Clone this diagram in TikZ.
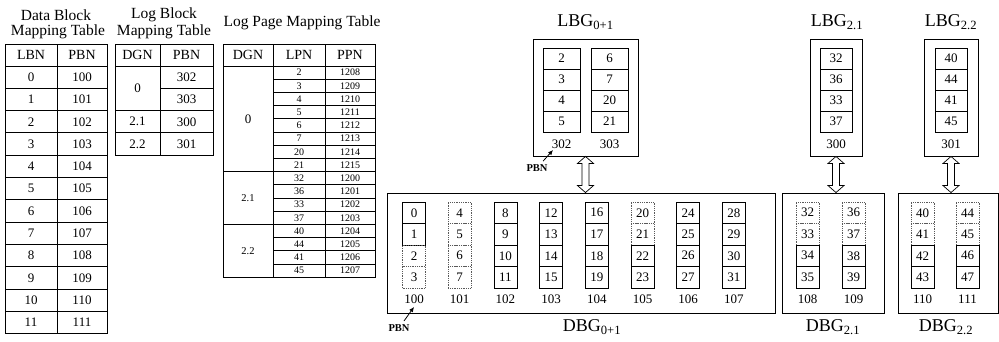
\documentclass[tikz,border=0pt]{standalone}
\usepackage{fontspec}
\setmainfont{Liberation Serif}
\usetikzlibrary{arrows.meta,positioning,calc}

\tikzset{
  tcell/.style={draw, line width=0.8pt, inner sep=0pt, font=\fontsize{13}{13}\selectfont},
  thead/.style={tcell, font=\fontsize{14}{14}\selectfont},
  pcell/.style={draw, line width=0.7pt, inner sep=0pt, font=\fontsize{10}{10}\selectfont},
  pagecell/.style={draw, line width=0.8pt, inner sep=0pt, minimum height=21.5, font=\fontsize{13}{13}\selectfont},
  invalid/.style={densely dotted, draw=black!65},
  chkpage/.code={%
    \ifnum#1>1 \ifnum#1<8 \tikzset{invalid}\fi\fi
    \ifnum#1=20 \tikzset{invalid}\fi
    \ifnum#1=21 \tikzset{invalid}\fi
    \ifnum#1>31 \pgfmathtruncatemacro\pgrest{mod(#1,4)}\ifnum\pgrest<2 \tikzset{invalid}\fi\fi},
  grpbox/.style={draw, line width=0.9pt, inner sep=0pt},
  tabtitle/.style={font=\fontsize{15.5}{15.5}\selectfont},
  grptitle/.style={font=\fontsize{18}{18}\selectfont},
  lbl/.style={font=\fontsize{13}{13}\selectfont},
  pbnlbl/.style={font=\fontsize{10.5}{10.5}\selectfont\bfseries},
  pbnarrow/.style={line width=0.8pt, -{Latex[length=5pt,width=4.5pt]}},
  xchg/.style={draw, fill=white, line width=0.7pt, line join=miter}
}
% hollow two-way arrow from the bottom of #1 down to the top of #2
\newcommand{\swaparrow}[2]{%
  \path [xchg] (#1.south) -- ++(8,7) -- ++(-4.5,0)
    -- ($(#1.south |- #2.north)+(3.5,-7)$) -- ++(4.5,0) -- (#1.south |- #2.north)
    -- ++(-8,-7) -- ++(4.5,0) -- ($(#1.south)+(-3.5,7)$) -- ++(-4.5,0) -- cycle;}

\begin{document}
\begin{tikzpicture}[x=1pt, y=-1pt]
        \useasboundingbox (0,0) rectangle (999,342);
        % Place titles
        \node [tabtitle] (t1a) at (56,15) {Data Block};
        \node [tabtitle] (t1b) at (58,32) {Mapping Table};
        \node [tabtitle] (t2a) at (164,15) {Log Block};
        \node [tabtitle] (t2b) at (164,32) {Mapping Table};
        \node [tabtitle] (t3) at (302,23) {Log Page Mapping Table};
        % Data block mapping table
        \node [thead, minimum width=52, minimum height=22] (dbh1) at (31,55) {LBN};
        \node [thead, minimum width=50, minimum height=22] (dbh2) at (82,55) {PBN};
        \foreach \k in {0,...,11} {
            \pgfmathtruncatemacro\pb{100+\k}
            \node [tcell, minimum width=52, minimum height=22.3] (lbn\k) at (31,{77.15+22.3*\k}) {\k};
            \node [tcell, minimum width=50, minimum height=22.3] (pbn\k) at (82,{77.15+22.3*\k}) {\pb};
        }
        % Log block mapping table
        \node [thead, minimum width=45, minimum height=22] (lbh1) at (137.5,55) {DGN};
        \node [thead, minimum width=53, minimum height=22] (lbh2) at (186.5,55) {PBN};
        \node [tcell, minimum width=45, minimum height=44.6] (dgn0) at (137.5,88.3) {0};
        \node [tcell, minimum width=45, minimum height=22.3] (dgn21) at (137.5,121.75) {2.1};
        \node [tcell, minimum width=45, minimum height=22.3] (dgn22) at (137.5,144.05) {2.2};
        \foreach \pb [count=\k from 0] in {302,303,300,301}
            \node [tcell, minimum width=53, minimum height=22.3] (lpb\k) at (186.5,{77.15+22.3*\k}) {\pb};
        % Log page mapping table
        \node [thead, minimum width=50, minimum height=22] (lph1) at (248,55) {DGN};
        \node [thead, minimum width=52, minimum height=22] (lph2) at (299,55) {LPN};
        \node [thead, minimum width=50, minimum height=22] (lph3) at (350,55) {PPN};
        \node [tcell, minimum width=50, minimum height=105.6] (pg0) at (248,118.8) {0};
        \node [tcell, minimum width=50, minimum height=52.8, font=\fontsize{10.5}{10.5}\selectfont] (pg21) at (248,198) {2.1};
        \node [tcell, minimum width=50, minimum height=52.8, font=\fontsize{10.5}{10.5}\selectfont] (pg22) at (248,250.8) {2.2};
        \foreach \lp/\pp [count=\k from 0] in {2/1208,3/1209,4/1210,5/1211,6/1212,7/1213,20/1214,21/1215,
                                                32/1200,36/1201,33/1202,37/1203,40/1204,44/1205,41/1206,45/1207} {
            \node [pcell, minimum width=52, minimum height=13.2] (lpn\k) at (299,{72.6+13.2*\k}) {\lp};
            \node [pcell, minimum width=50, minimum height=13.2] (ppn\k) at (350,{72.6+13.2*\k}) {\pp};
        }
        % Log block groups
        \node [grpbox, minimum width=105, minimum height=117] (lbg01) at (585.5,97.5) {};
        \node [grptitle] (lbg01t) at (585.5,22) {LBG\textsubscript{0+1}};
        \foreach \v [count=\k from 0] in {2,3,4,5}
            \node [pagecell, minimum width=37, minimum height=21] (la\k) at (561.5,{58.5+21*\k}) {\v};
        \foreach \v [count=\k from 0] in {6,7,20,21}
            \node [pagecell, minimum width=37, minimum height=21] (lb\k) at (609.5,{58.5+21*\k}) {\v};
        \node [lbl] (n302) at (561.5,144) {302};
        \node [lbl] (n303) at (609.5,144) {303};
        \node [grpbox, minimum width=52, minimum height=117] (lbg21) at (836,97.5) {};
        \node [grptitle] (lbg21t) at (837,22) {LBG\textsubscript{2.1}};
        \foreach \v [count=\k from 0] in {32,36,33,37}
            \node [pagecell, minimum width=32, minimum height=21] (lc\k) at (836,{58.5+21*\k}) {\v};
        \node [lbl] (n300) at (836,144) {300};
        \node [grpbox, minimum width=54, minimum height=117] (lbg22) at (951,97.5) {};
        \node [grptitle] (lbg22t) at (951,22) {LBG\textsubscript{2.2}};
        \foreach \v [count=\k from 0] in {40,44,41,45}
            \node [pagecell, minimum width=32, minimum height=21] (ld\k) at (951,{58.5+21*\k}) {\v};
        \node [lbl] (n301) at (951,144) {301};
        % Data block groups
        \node [grpbox, minimum width=388, minimum height=120] (dbg01) at (581,253) {};
        \node [grptitle] (dbg01t) at (592,327) {DBG\textsubscript{0+1}};
        \foreach \i in {0,...,7} {
            \foreach \k in {0,...,3} {
                \pgfmathtruncatemacro\v{4*\i+\k}
                \node [pagecell, minimum width=23, chkpage=\v] (d\v) at ({414+45.7*\i},{212.75+21.5*\k}) {\v};
            }
            \pgfmathtruncatemacro\pb{100+\i}
            \node [lbl] (b\pb) at ({414+45.7*\i},299) {\pb};
        }
        \node [grpbox, minimum width=102, minimum height=120] (dbg21) at (833,253) {};
        \node [grptitle] (dbg21t) at (833,327) {DBG\textsubscript{2.1}};
        \node [grpbox, minimum width=100, minimum height=120] (dbg22) at (948,253) {};
        \node [grptitle] (dbg22t) at (946,327) {DBG\textsubscript{2.2}};
        \foreach \base/\xa/\xb/\pa in {32/807.5/853.5/108, 40/922.5/967.5/110} {
            \foreach \k in {0,...,3} {
                \pgfmathtruncatemacro\v{\base+\k}
                \pgfmathtruncatemacro\w{\base+4+\k}
                \node [pagecell, minimum width=23, chkpage=\v] (d\v) at (\xa,{212.75+21.5*\k}) {\v};
                \node [pagecell, minimum width=23, chkpage=\w] (d\w) at (\xb,{212.75+21.5*\k}) {\w};
            }
            \pgfmathtruncatemacro\pb{\pa+1}
            \node [lbl] (b\pa) at (\xa,299) {\pa};
            \node [lbl] (b\pb) at (\xb,299) {\pb};
        }
        % PBN pointers
        \node [pbnlbl] (pbnl) at (537,168) {PBN};
        \coordinate (pbnltip) at (553,150);
        \node [pbnlbl] (pbnd) at (399,328) {PBN};
        \coordinate (pbndtip) at (414,307);
        % Draw edges
        \path [pbnarrow] (pbnl) edge (pbnltip);
        \path [pbnarrow] (pbnd) edge (pbndtip);
        \swaparrow{lbg01}{dbg01}
        \swaparrow{lbg21}{dbg21}
        \swaparrow{lbg22}{dbg22}
\end{tikzpicture}
\end{document}
